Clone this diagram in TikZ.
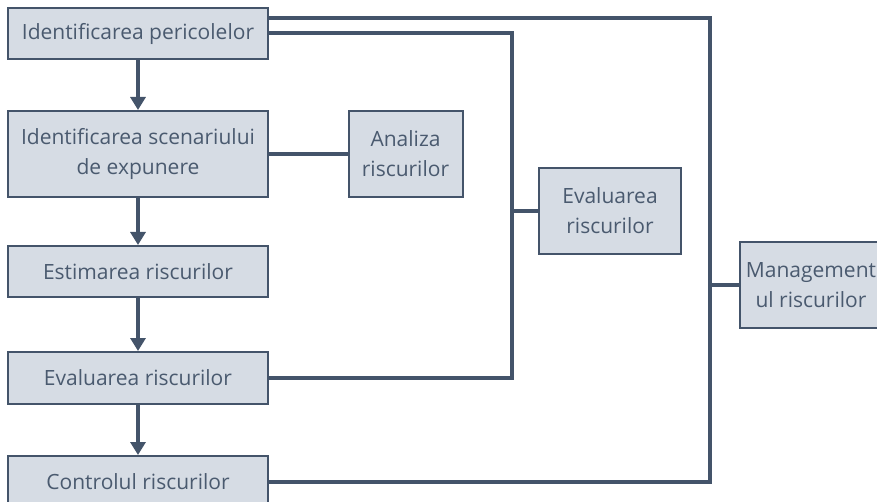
\documentclass[tikz,border=0pt]{standalone}
\usepackage{fontspec}
\setmainfont{Open Sans}
\usetikzlibrary{arrows.meta}
\definecolor{edgec}{HTML}{44546A}
\definecolor{textc}{HTML}{4A5A6F}
\definecolor{boxfill}{HTML}{D6DCE4}
\begin{document}
\begin{tikzpicture}[x=1pt,y=-1pt,
  box/.style={draw=edgec, line width=2pt, fill=boxfill, text=textc, align=center, inner sep=0pt, font=\fontsize{21}{30}\selectfont},
  conn/.style={draw=edgec, line width=3.5pt},
  arr/.style={conn, -{Triangle[width=15pt,length=13pt]}}]
\useasboundingbox (0,0) rectangle (877,502);
\node[box, minimum width=260pt, minimum height=51pt] (b1) at (138,33.5) {Identificarea pericolelor};
\node[box, minimum width=260pt, minimum height=86pt] (b2) at (138,154) {Identificarea scenariului\\de expunere};
\node[box, minimum width=260pt, minimum height=51pt] (b3) at (138,271.5) {Estimarea riscurilor};
\node[box, minimum width=260pt, minimum height=52pt] (b4) at (138,378) {Evaluarea riscurilor};
\node[box, minimum width=260pt, minimum height=52pt] (b5) at (138,482) {Controlul riscurilor};
\node[box, minimum width=114pt, minimum height=86pt] (an) at (405.5,154) {Analiza\\riscurilor};
\node[box, minimum width=142pt, minimum height=86pt] (ev) at (610,211) {Evaluarea\\riscurilor};
\node[box, minimum width=142pt, minimum height=86pt] (mg) at (811,285) {Management\\ul riscurilor};
\coordinate (mtop) at (710,18);
\coordinate (mbot) at (710,482);
\coordinate (etop) at (512,33);
\coordinate (ebot) at (512,378);
\draw[arr] (b1) -- (b2);
\draw[arr] (b2) -- (b3);
\draw[arr] (b3) -- (b4);
\draw[arr] (b4) -- (b5);
\draw[conn] (b2) -- (an);
\draw[conn] (b1.east |- mtop) -- (mtop) -- (mbot) -- (b5.east |- mbot);
\draw[conn] (b1.east |- etop) -- (etop) -- (ebot) -- (b4.east);
\draw[conn] (ev.west) -- (ev.west -| etop);
\draw[conn] (mg.west) -- (mg.west -| mtop);
\end{tikzpicture}
\end{document}
